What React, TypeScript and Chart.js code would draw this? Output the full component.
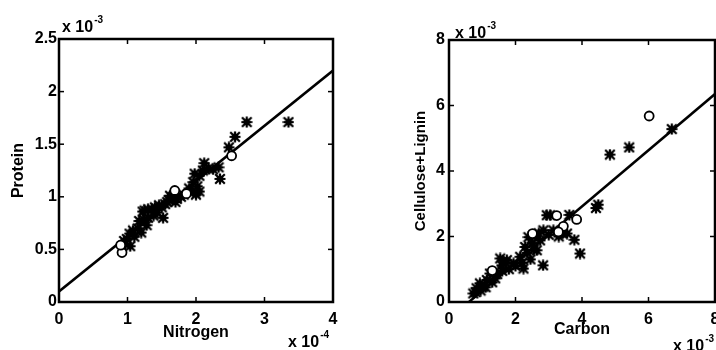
import React, { useEffect, useRef } from "react";
import { Chart, registerables } from "chart.js";

Chart.register(...registerables);

const FONT = '"Liberation Sans", Arial, Helvetica, sans-serif';

// ---------- Left panel: Protein vs Nitrogen (x in 1e-4, y in 1e-3) ----------
const nitrogenStarX = [2.74, 3.35, 2.57, 2.48, 2.35, 2.33, 2.25, 2.18, 2.12, 2.1, 2.05, 1.98, 1.96, 2.02, 2.05, 1.95, 2.0, 1.9, 1.78, 1.72, 1.66, 1.62, 1.58, 1.55, 1.52, 1.5, 1.46, 1.4, 1.36, 1.3, 1.25, 1.22, 1.38, 1.3, 1.24, 1.17, 1.28, 1.2, 1.15, 1.08, 1.1, 1.03, 0.99, 0.95, 1.04, 0.97, 1.43, 1.7, 1.82, 1.6];
const proteinStarY = [1.71, 1.71, 1.57, 1.47, 1.17, 1.28, 1.26, 1.27, 1.32, 1.25, 1.2, 1.22, 1.14, 1.1, 1.05, 1.05, 1.02, 1.08, 1.0, 0.98, 1.0, 1.01, 0.95, 0.93, 0.8, 0.9, 0.92, 0.9, 0.88, 0.88, 0.87, 0.86, 0.82, 0.8, 0.78, 0.77, 0.73, 0.66, 0.7, 0.68, 0.62, 0.65, 0.6, 0.58, 0.53, 0.55, 0.85, 0.95, 1.02, 0.97];
const nitrogenCircleX = [2.52, 1.86, 1.69, 0.92, 0.9];
const proteinCircleY = [1.39, 1.03, 1.06, 0.47, 0.54];
const nitrogenFitX = [0, 4];
const proteinFitY = [0.1, 2.2];
const nitrogenTicks = [0, 1, 2, 3, 4];
const proteinTicks = [0, 0.5, 1, 1.5, 2, 2.5];

// ---------- Right panel: Cellulose+Lignin vs Carbon (x in 1e-3, y in 1e-3) ----------
const carbonStarX = [6.7, 5.42, 4.84, 4.49, 4.42, 3.94, 3.77, 3.62, 3.04, 2.94, 3.55, 3.14, 2.84, 2.74, 2.64, 2.83, 2.39, 2.29, 2.24, 2.14, 1.94, 1.74, 1.54, 1.59, 1.39, 1.14, 1.03, 0.83, 0.73, 0.93, 1.23, 2.5, 2.6, 2.7, 3.0, 3.3, 3.4, 2.35, 2.45, 2.2, 2.0, 1.8, 1.6, 1.45, 1.3, 1.1, 0.95, 0.8, 1.7, 2.55];
const celluloseStarY = [5.28, 4.72, 4.5, 2.97, 2.87, 1.48, 1.9, 2.66, 2.65, 2.65, 2.09, 2.19, 2.19, 1.88, 1.58, 1.12, 1.98, 1.68, 1.02, 1.38, 1.18, 1.28, 1.33, 1.12, 0.72, 0.67, 0.47, 0.42, 0.26, 0.57, 0.87, 1.8, 2.0, 2.1, 2.05, 2.0, 2.1, 1.5, 1.3, 1.2, 1.1, 1.0, 0.95, 0.85, 0.6, 0.45, 0.35, 0.3, 1.2, 1.6];
const carbonCircleX = [6.02, 3.84, 3.24, 3.44, 3.29, 2.51, 1.3];
const celluloseCircleY = [5.68, 2.52, 2.64, 2.31, 2.14, 2.09, 0.96];
const carbonFitX = [0.6, 8];
const celluloseFitY = [0, 6.35];
const carbonTicks = [0, 2, 4, 6, 8];
const celluloseTicks = [0, 2, 4, 6, 8];

const zip = (xs: number[], ys: number[]) => xs.map((x, i) => ({ x, y: ys[i] }));

type PanelSpec = {
  starX: number[];
  starY: number[];
  circleX: number[];
  circleY: number[];
  fitX: number[];
  fitY: number[];
  xTicks: number[];
  yTicks: number[];
  xTitle: string;
  yTitle: string;
  xExp: string;
  yExp: string;
  layout: {
    canvasW: number;
    padLeft: number;
    padRight: number;
    padTop: number;
    yWidth: number;
    xHeight: number;
    yTitleFont: number;
    yTitlePad: number;
    xTitlePad: number;
    yTickPad: number;
    topExp: { dx: number; dy: number };
    botExp: { dx: number; dy: number };
  };
};

// Bold, slightly smeared asterisk marker like the scanned figure
function makeAsterisk(): HTMLCanvasElement {
  const s = 12;
  const c = document.createElement("canvas");
  c.width = s;
  c.height = s;
  const g = c.getContext("2d")!;
  const m = s / 2;
  g.strokeStyle = "#000";
  g.fillStyle = "#000";
  g.lineWidth = 2.2;
  g.beginPath();
  g.moveTo(m, 0.5); g.lineTo(m, s - 0.5);
  g.moveTo(0.5, m); g.lineTo(s - 0.5, m);
  g.moveTo(1.2, 1.2); g.lineTo(s - 1.2, s - 1.2);
  g.moveTo(s - 1.2, 1.2); g.lineTo(1.2, s - 1.2);
  g.stroke();
  g.fillRect(m - 3.2, m - 3.2, 6.4, 6.4);
  return c;
}

function drawExp(ctx: CanvasRenderingContext2D, x: number, y: number, exp: string) {
  ctx.font = `bold 16px ${FONT}`;
  ctx.textBaseline = "alphabetic";
  ctx.textAlign = "left";
  ctx.fillStyle = "#000";
  const base = "x 10";
  ctx.fillText(base, x, y);
  const w = ctx.measureText(base).width;
  ctx.font = `bold 10px ${FONT}`;
  ctx.fillText(exp, x + w + 1, y - 9);
}

function makeFramePlugin(spec: PanelSpec) {
  return {
    id: "frame",
    afterDraw(chart: any) {
      const { ctx, chartArea: a, scales } = chart;
      const L = spec.layout;
      ctx.save();
      ctx.strokeStyle = "#000";
      ctx.lineCap = "butt";
      ctx.lineWidth = 1.5;
      const tl = 5;
      const seg = (x1: number, y1: number, x2: number, y2: number) => {
        ctx.beginPath();
        ctx.moveTo(x1, y1);
        ctx.lineTo(x2, y2);
        ctx.stroke();
      };
      scales.x.ticks.forEach((t: any) => {
        const px = scales.x.getPixelForValue(t.value);
        seg(px, a.bottom, px, a.bottom - tl);
        seg(px, a.top, px, a.top + tl);
      });
      scales.y.ticks.forEach((t: any) => {
        const py = scales.y.getPixelForValue(t.value);
        seg(a.left, py, a.left + tl, py);
        seg(a.right, py, a.right - tl, py);
      });
      ctx.lineWidth = 2.5;
      ctx.strokeRect(a.left, a.top, a.right - a.left, a.bottom - a.top);
      drawExp(ctx, a.left + L.topExp.dx, a.top + L.topExp.dy, spec.yExp);
      drawExp(ctx, a.right + L.botExp.dx, a.bottom + L.botExp.dy, spec.xExp);
      ctx.restore();
    },
  };
}

function Panel({ spec, left, width }: { spec: PanelSpec; left: number; width: number }) {
  const ref = useRef<HTMLCanvasElement | null>(null);
  useEffect(() => {
    if (!ref.current) return;
    const L = spec.layout;
    const star = makeAsterisk();
    const chart = new Chart(ref.current, {
      type: "scatter",
      data: {
        datasets: [
          {
            data: zip(spec.circleX, spec.circleY),
            pointStyle: "circle",
            pointRadius: 4.5,
            borderWidth: 1.8,
            borderColor: "#000",
            backgroundColor: "#fff",
          },
          {
            data: zip(spec.starX, spec.starY),
            pointStyle: star,
            pointRadius: 6,
            borderWidth: 0,
            borderColor: "#000",
            backgroundColor: "#000",
          },
          {
            data: zip(spec.fitX, spec.fitY),
            showLine: true,
            pointRadius: 0,
            borderWidth: 2.5,
            borderColor: "#000",
            backgroundColor: "#000",
          },
        ],
      } as any,
      options: {
        responsive: false,
        animation: false,
        devicePixelRatio: 1,
        layout: {
          padding: { left: L.padLeft, right: L.padRight, top: L.padTop, bottom: 0 },
        },
        plugins: {
          legend: { display: false },
          tooltip: { enabled: false },
        },
        scales: {
          x: {
            type: "linear",
            min: spec.xTicks[0],
            max: spec.xTicks[spec.xTicks.length - 1],
            afterBuildTicks: (s: any) => {
              s.ticks = spec.xTicks.map((v) => ({ value: v }));
            },
            afterFit: (s: any) => {
              s.height = L.xHeight;
            },
            grid: { display: false, drawTicks: false },
            border: { display: false },
            ticks: {
              color: "#000",
              padding: 8,
              maxRotation: 0,
              autoSkip: false,
              callback: (v: any) => String(v),
              font: { family: FONT, size: 16, weight: "bold" },
            },
            title: {
              display: true,
              text: spec.xTitle,
              color: "#000",
              font: { family: FONT, size: 16, weight: "bold", lineHeight: 1.2 },
              padding: { top: 0, bottom: L.xTitlePad },
            },
          },
          y: {
            type: "linear",
            min: spec.yTicks[0],
            max: spec.yTicks[spec.yTicks.length - 1],
            afterBuildTicks: (s: any) => {
              s.ticks = spec.yTicks.map((v) => ({ value: v }));
            },
            afterFit: (s: any) => {
              s.width = L.yWidth;
            },
            grid: { display: false, drawTicks: false },
            border: { display: false },
            ticks: {
              color: "#000",
              padding: L.yTickPad,
              autoSkip: false,
              callback: (v: any) => String(v),
              font: { family: FONT, size: 16, weight: "bold" },
            },
            title: {
              display: true,
              text: spec.yTitle,
              color: "#000",
              font: { family: FONT, size: L.yTitleFont, weight: "bold", lineHeight: 1.2 },
              padding: { top: L.yTitlePad, bottom: 0 },
            },
          },
        },
      } as any,
      plugins: [makeFramePlugin(spec)],
    });
    return () => chart.destroy();
  }, [spec]);
  return (
    <div style={{ position: "absolute", left, top: 0, width, height: 350, overflow: "hidden" }}>
      <canvas ref={ref} width={spec.layout.canvasW} height={350} style={{ display: "block" }} />
    </div>
  );
}

const leftSpec: PanelSpec = {
  starX: nitrogenStarX,
  starY: proteinStarY,
  circleX: nitrogenCircleX,
  circleY: proteinCircleY,
  fitX: nitrogenFitX,
  fitY: proteinFitY,
  xTicks: nitrogenTicks,
  yTicks: proteinTicks,
  xTitle: "Nitrogen",
  yTitle: "Protein",
  xExp: "-4",
  yExp: "-3",
  layout: {
    canvasW: 358,
    padLeft: 0,
    padRight: 25,
    padTop: 39,
    yWidth: 59,
    xHeight: 48,
    yTitleFont: 16,
    yTitlePad: 9.4,
    xTitlePad: 7.9,
    yTickPad: 2,
    topExp: { dx: 3, dy: -7 },
    botExp: { dx: -45, dy: 45 },
  },
};

const rightSpec: PanelSpec = {
  starX: carbonStarX,
  starY: celluloseStarY,
  circleX: carbonCircleX,
  circleY: celluloseCircleY,
  fitX: carbonFitX,
  fitY: celluloseFitY,
  xTicks: carbonTicks,
  yTicks: celluloseTicks,
  xTitle: "Carbon",
  yTitle: "Cellulose+Lignin",
  xExp: "-3",
  yExp: "-3",
  layout: {
    canvasW: 390,
    padLeft: 0,
    padRight: 33,
    padTop: 40,
    yWidth: 91,
    xHeight: 48,
    yTitleFont: 15,
    yTitlePad: 54,
    xTitlePad: 10.4,
    yTickPad: 4,
    topExp: { dx: 6, dy: -2 },
    botExp: { dx: -42, dy: 49 },
  },
};

export default function App() {
  return (
    <div style={{ position: "fixed", left: 0, top: 0, width: 716, height: 350, background: "#fff", overflow: "hidden" }}>
      <Panel spec={leftSpec} left={0} width={358} />
      <Panel spec={rightSpec} left={358} width={358} />
    </div>
  );
}
